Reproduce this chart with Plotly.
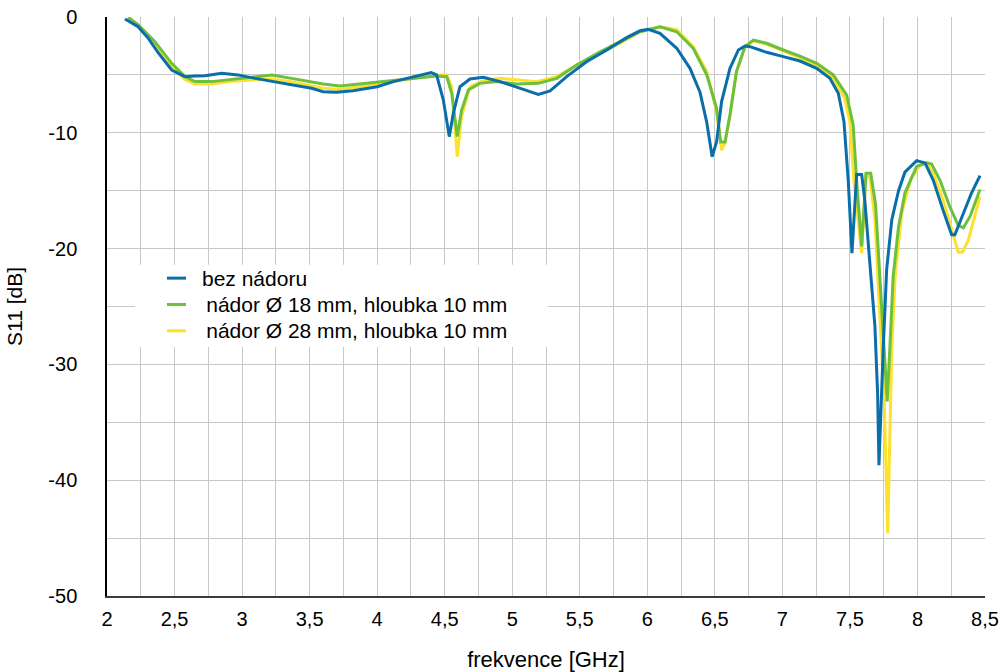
import plotly.graph_objects as go

# ---- data ----
blue_x = [2.133, 2.23, 2.306, 2.38, 2.479, 2.577, 2.65, 2.725, 2.849, 2.97, 3.096, 3.24, 3.367, 3.515, 3.6, 3.70,
          3.82, 4.0, 4.12, 4.267, 4.40, 4.44, 4.49, 4.534, 4.564, 4.613, 4.687, 4.786, 4.91, 5.06, 5.193, 5.28,
          5.403, 5.55, 5.70, 5.847, 5.946, 6.007, 6.094, 6.218, 6.316, 6.39, 6.44, 6.48, 6.513, 6.55, 6.612,
          6.674, 6.723, 6.76, 6.883, 7.007, 7.13, 7.254, 7.352, 7.414, 7.456, 7.488, 7.515, 7.55, 7.587, 7.61,
          7.648, 7.685, 7.705, 7.715, 7.747, 7.772, 7.81, 7.86, 7.907, 7.994, 8.056, 8.117, 8.19, 8.253, 8.277,
          8.34, 8.40, 8.463]
blue_y = [-0.17, -0.84, -1.84, -3.1, -4.58, -5.15, -5.1, -5.07, -4.86, -5.0, -5.3, -5.6, -5.87, -6.16, -6.45, -6.5,
          -6.36, -6.02, -5.58, -5.15, -4.8, -5.0, -7.17, -10.33, -8.3, -6.02, -5.35, -5.21, -5.58, -6.16, -6.68, -6.39,
          -5.15, -3.86, -2.85, -1.78, -1.18, -1.06, -1.41, -2.7, -4.43, -6.5, -9.1, -12.06, -10.77, -7.3, -4.43,
          -2.85, -2.5, -2.56, -3.05, -3.42, -3.8, -4.43, -5.3, -6.59, -9.04, -14.2, -20.4, -13.6, -13.6, -15.8,
          -21.0, -26.7, -32.5, -38.7, -28.5, -21.8, -17.5, -15.0, -13.4, -12.4, -12.6, -14.1, -16.7, -18.8, -18.8,
          -17.0, -15.2, -13.7]

green_x = [2.158, 2.232, 2.355, 2.479, 2.577, 2.65, 2.775, 2.923, 3.07, 3.22, 3.367, 3.515, 3.6, 3.725, 3.873,
           4.07, 4.267, 4.44, 4.515, 4.552, 4.593, 4.625, 4.675, 4.76, 4.885, 5.033, 5.193, 5.33, 5.477, 5.65, 5.80,
           5.946, 6.094, 6.218, 6.34, 6.44, 6.513, 6.543, 6.575, 6.612, 6.66, 6.723, 6.785, 6.883, 7.007, 7.13,
           7.254, 7.377, 7.476, 7.524, 7.55, 7.587, 7.619, 7.654, 7.69, 7.722, 7.754, 7.776, 7.796, 7.82, 7.86,
           7.907, 7.994, 8.068, 8.105, 8.167, 8.24, 8.302, 8.34, 8.39, 8.463]
green_y = [-0.03, -0.69, -2.13, -4.0, -5.15, -5.58, -5.58, -5.38, -5.15, -5.0, -5.3, -5.58, -5.79, -5.96, -5.79,
           -5.5, -5.3, -5.1, -5.15, -6.59, -10.33, -8.03, -6.3, -5.73, -5.58, -5.79, -5.73, -5.3, -4.15, -3.0, -2.13,
           -1.27, -0.84, -1.27, -2.7, -5.0, -7.88, -10.8, -10.8, -8.46, -4.72, -2.56, -1.99, -2.27, -2.85, -3.37,
           -4.0, -5.0, -6.74, -9.33, -14.2, -19.8, -13.5, -13.5, -16.2, -22.4, -28.5, -33.2, -28.5, -22.4, -18.1,
           -15.2, -12.9, -12.6, -12.7, -14.1, -16.4, -18.0, -18.2, -17.2, -14.9]

yellow_x = [2.158, 2.232, 2.355, 2.479, 2.577, 2.65, 2.775, 2.923, 3.07, 3.22, 3.367, 3.515, 3.6, 3.725, 3.873,
            4.07, 4.267, 4.465, 4.515, 4.552, 4.593, 4.625, 4.687, 4.786, 4.91, 5.033, 5.18, 5.33, 5.477, 5.65, 5.80,
            5.946, 6.094, 6.218, 6.34, 6.44, 6.513, 6.55, 6.575, 6.612, 6.66, 6.723, 6.785, 6.883, 7.007, 7.13,
            7.254, 7.377, 7.46, 7.50, 7.53, 7.587, 7.619, 7.65, 7.685, 7.722, 7.754, 7.78, 7.79, 7.81, 7.835, 7.883,
            7.95, 8.02, 8.068, 8.117, 8.19, 8.265, 8.302, 8.334, 8.376, 8.463]
yellow_y = [-0.03, -0.75, -2.3, -4.3, -5.4, -5.79, -5.79, -5.55, -5.44, -5.35, -5.58, -5.96, -6.16, -6.25, -6.02,
            -5.67, -5.3, -5.0, -5.0, -6.02, -12.06, -8.6, -6.02, -5.5, -5.3, -5.44, -5.58, -5.15, -4.15, -3.14, -2.27,
            -1.27, -0.84, -1.1, -2.56, -4.72, -8.17, -11.5, -10.9, -8.46, -4.72, -2.6, -2.05, -2.35, -2.95, -3.5,
            -4.2, -5.3, -7.0, -9.04, -14.2, -20.4, -13.6, -13.9, -17.5, -25.3, -33.1, -44.6, -38.3, -28.5, -22.4,
            -17.0, -14.0, -12.8, -12.6, -13.5, -15.8, -18.7, -20.3, -20.3, -19.3, -15.5]

series_names = ["bez nádoru", "\u2009nádor Ø 18 mm, hloubka 10 mm", "\u2009nádor Ø 28 mm, hloubka 10 mm"]
colors = ["#0a6eaa", "#6dbf3e", "#fde12d"]

y_tickvals = [0, -5, -10, -15, -20, -25, -30, -35, -40, -45, -50]
y_ticktext = ["0", "", "-10", "", "-20", "", "-30", "", "-40", "", "-50"]

x_title = "frekvence [GHz]"
y_title = "S11 [dB]"

FONT = "Liberation Sans, Arial, Helvetica, sans-serif"

fig = go.Figure()
# draw order: yellow below, green, blue on top
fig.add_trace(go.Scatter(x=yellow_x, y=yellow_y, mode="lines", name=series_names[2],
                         line=dict(color=colors[2], width=3), showlegend=False))
fig.add_trace(go.Scatter(x=green_x, y=green_y, mode="lines", name=series_names[1],
                         line=dict(color=colors[1], width=3), showlegend=False))
fig.add_trace(go.Scatter(x=blue_x, y=blue_y, mode="lines", name=series_names[0],
                         line=dict(color=colors[0], width=3), showlegend=False))

# manual legend box (paper coordinates)
shapes = [dict(type="rect", xref="paper", yref="paper", x0=0.032, x1=0.502, y0=0.430, y1=0.572,
               fillcolor="white", line=dict(width=0), layer="above")]
rows_y = [0.549, 0.5035, 0.458]
annotations = []
for name, col, ry in zip(series_names, colors, rows_y):
    shapes.append(dict(type="line", xref="paper", yref="paper", x0=0.0683, x1=0.090, y0=ry, y1=ry,
                       line=dict(color=col, width=3), layer="above"))
    annotations.append(dict(xref="paper", yref="paper", x=0.1059, y=ry, text=name, showarrow=False,
                            xanchor="left", yanchor="middle", font=dict(family=FONT, size=21, color="#000")))

grid = "#c8c8c8"
fig.update_layout(
    width=1002, height=672, autosize=False,
    margin=dict(l=107, r=17, t=17, b=76, pad=0),
    paper_bgcolor="white", plot_bgcolor="white",
    separators=", ",
    font=dict(family=FONT, size=20, color="#000"),
    shapes=shapes, annotations=annotations,
    showlegend=False,
)
fig.update_xaxes(range=[2, 8.5], tick0=2, dtick=0.5, showgrid=True, gridcolor=grid, gridwidth=1,
                 minor=dict(dtick=0.25, showgrid=True, gridcolor=grid, gridwidth=1),
                 showline=True, linecolor="#3c3c3c", linewidth=2, zeroline=False, ticks="",
                 ticklabelstandoff=4, automargin=False,
                 title=dict(text=x_title, standoff=27, font=dict(size=22)))
fig.update_yaxes(range=[-50, 0], tickmode="array", tickvals=y_tickvals, ticktext=y_ticktext,
                 showgrid=True, gridcolor=grid, gridwidth=1,
                 showline=True, linecolor="#000", linewidth=1.5, zeroline=False, ticks="",
                 ticklabelstandoff=24, automargin=False,
                 title=dict(text=y_title, standoff=20, font=dict(size=21)))

fig.write_html("out.html")
